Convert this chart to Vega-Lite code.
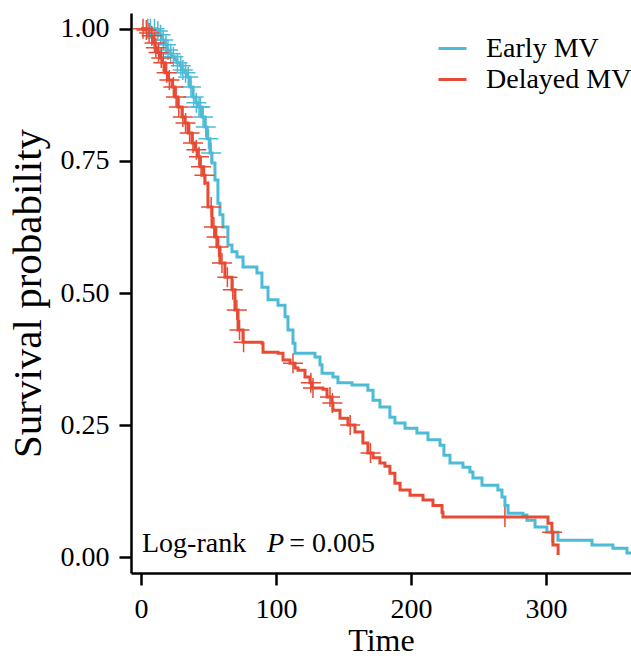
{
  "$schema": "https://vega.github.io/schema/vega-lite/v6.json",
  "width": 500,
  "height": 560,
  "autosize": {"type": "none"},
  "padding": {"left": 131, "top": 13, "right": 0, "bottom": 83},
  "background": "white",
  "config": {
    "view": {"stroke": null},
    "font": "Liberation Serif",
    "axis": {
      "domainColor": "black", "domainWidth": 2.5,
      "tickColor": "black", "tickWidth": 2.5, "tickSize": 12,
      "labelFont": "Liberation Serif", "labelFontSize": 28, "labelColor": "black",
      "titleFont": "Liberation Serif", "titleFontWeight": "normal", "titleColor": "black",
      "grid": false
    }
  },
  "datasets": {
    "curve": [
      {"group": "Early MV", "time": 0, "surv": 1.0},
      {"group": "Early MV", "time": 8.9, "surv": 1.0},
      {"group": "Early MV", "time": 11.9, "surv": 0.996},
      {"group": "Early MV", "time": 14.1, "surv": 0.989},
      {"group": "Early MV", "time": 15.6, "surv": 0.979},
      {"group": "Early MV", "time": 17.8, "surv": 0.970},
      {"group": "Early MV", "time": 19.3, "surv": 0.960},
      {"group": "Early MV", "time": 21.5, "surv": 0.953},
      {"group": "Early MV", "time": 23.0, "surv": 0.947},
      {"group": "Early MV", "time": 25.2, "surv": 0.941},
      {"group": "Early MV", "time": 26.7, "surv": 0.936},
      {"group": "Early MV", "time": 28.9, "surv": 0.930},
      {"group": "Early MV", "time": 30.4, "surv": 0.922},
      {"group": "Early MV", "time": 32.6, "surv": 0.917},
      {"group": "Early MV", "time": 34.1, "surv": 0.909},
      {"group": "Early MV", "time": 36.3, "surv": 0.890},
      {"group": "Early MV", "time": 38.5, "surv": 0.871},
      {"group": "Early MV", "time": 40.7, "surv": 0.860},
      {"group": "Early MV", "time": 42.2, "surv": 0.852},
      {"group": "Early MV", "time": 45.2, "surv": 0.833},
      {"group": "Early MV", "time": 47.4, "surv": 0.814},
      {"group": "Early MV", "time": 48.9, "surv": 0.792},
      {"group": "Early MV", "time": 51.1, "surv": 0.765},
      {"group": "Early MV", "time": 52.6, "surv": 0.746},
      {"group": "Early MV", "time": 54.8, "surv": 0.714},
      {"group": "Early MV", "time": 57.0, "surv": 0.670},
      {"group": "Early MV", "time": 58.5, "surv": 0.648},
      {"group": "Early MV", "time": 60.7, "surv": 0.625},
      {"group": "Early MV", "time": 64.4, "surv": 0.591},
      {"group": "Early MV", "time": 67.4, "surv": 0.578},
      {"group": "Early MV", "time": 71.1, "surv": 0.568},
      {"group": "Early MV", "time": 75.6, "surv": 0.549},
      {"group": "Early MV", "time": 85.9, "surv": 0.538},
      {"group": "Early MV", "time": 89.6, "surv": 0.511},
      {"group": "Early MV", "time": 94.1, "surv": 0.487},
      {"group": "Early MV", "time": 101.5, "surv": 0.477},
      {"group": "Early MV", "time": 106.7, "surv": 0.455},
      {"group": "Early MV", "time": 108.9, "surv": 0.430},
      {"group": "Early MV", "time": 112.6, "surv": 0.405},
      {"group": "Early MV", "time": 114.1, "surv": 0.386},
      {"group": "Early MV", "time": 128.9, "surv": 0.379},
      {"group": "Early MV", "time": 132.6, "surv": 0.364},
      {"group": "Early MV", "time": 134.1, "surv": 0.348},
      {"group": "Early MV", "time": 142.2, "surv": 0.341},
      {"group": "Early MV", "time": 145.9, "surv": 0.330},
      {"group": "Early MV", "time": 156.3, "surv": 0.326},
      {"group": "Early MV", "time": 168.1, "surv": 0.316},
      {"group": "Early MV", "time": 171.9, "surv": 0.297},
      {"group": "Early MV", "time": 177.0, "surv": 0.284},
      {"group": "Early MV", "time": 184.4, "surv": 0.265},
      {"group": "Early MV", "time": 188.1, "surv": 0.254},
      {"group": "Early MV", "time": 195.6, "surv": 0.244},
      {"group": "Early MV", "time": 204.4, "surv": 0.235},
      {"group": "Early MV", "time": 212.6, "surv": 0.222},
      {"group": "Early MV", "time": 221.5, "surv": 0.212},
      {"group": "Early MV", "time": 224.4, "surv": 0.193},
      {"group": "Early MV", "time": 228.9, "surv": 0.178},
      {"group": "Early MV", "time": 238.5, "surv": 0.170},
      {"group": "Early MV", "time": 243.7, "surv": 0.161},
      {"group": "Early MV", "time": 245.9, "surv": 0.150},
      {"group": "Early MV", "time": 252.6, "surv": 0.136},
      {"group": "Early MV", "time": 264.4, "surv": 0.127},
      {"group": "Early MV", "time": 267.4, "surv": 0.114},
      {"group": "Early MV", "time": 269.6, "surv": 0.098},
      {"group": "Early MV", "time": 271.9, "surv": 0.083},
      {"group": "Early MV", "time": 283.0, "surv": 0.080},
      {"group": "Early MV", "time": 285.9, "surv": 0.070},
      {"group": "Early MV", "time": 291.9, "surv": 0.057},
      {"group": "Early MV", "time": 300.7, "surv": 0.047},
      {"group": "Early MV", "time": 308.9, "surv": 0.032},
      {"group": "Early MV", "time": 331.1, "surv": 0.032},
      {"group": "Early MV", "time": 334.1, "surv": 0.023},
      {"group": "Early MV", "time": 349.6, "surv": 0.017},
      {"group": "Early MV", "time": 360.0, "surv": 0.008},
      {"group": "Early MV", "time": 363.0, "surv": 0.008},
      {"group": "Delayed MV", "time": 0, "surv": 1.0},
      {"group": "Delayed MV", "time": 3.0, "surv": 0.998},
      {"group": "Delayed MV", "time": 5.2, "surv": 0.992},
      {"group": "Delayed MV", "time": 6.7, "surv": 0.987},
      {"group": "Delayed MV", "time": 8.9, "surv": 0.973},
      {"group": "Delayed MV", "time": 10.4, "surv": 0.964},
      {"group": "Delayed MV", "time": 11.9, "surv": 0.955},
      {"group": "Delayed MV", "time": 14.1, "surv": 0.945},
      {"group": "Delayed MV", "time": 15.6, "surv": 0.936},
      {"group": "Delayed MV", "time": 17.8, "surv": 0.917},
      {"group": "Delayed MV", "time": 20.0, "surv": 0.903},
      {"group": "Delayed MV", "time": 23.0, "surv": 0.890},
      {"group": "Delayed MV", "time": 25.2, "surv": 0.871},
      {"group": "Delayed MV", "time": 27.4, "surv": 0.852},
      {"group": "Delayed MV", "time": 30.4, "surv": 0.833},
      {"group": "Delayed MV", "time": 32.6, "surv": 0.822},
      {"group": "Delayed MV", "time": 34.8, "surv": 0.803},
      {"group": "Delayed MV", "time": 37.8, "surv": 0.784},
      {"group": "Delayed MV", "time": 40.0, "surv": 0.771},
      {"group": "Delayed MV", "time": 42.2, "surv": 0.758},
      {"group": "Delayed MV", "time": 43.7, "surv": 0.739},
      {"group": "Delayed MV", "time": 45.9, "surv": 0.723},
      {"group": "Delayed MV", "time": 47.4, "surv": 0.708},
      {"group": "Delayed MV", "time": 49.6, "surv": 0.663},
      {"group": "Delayed MV", "time": 52.6, "surv": 0.625},
      {"group": "Delayed MV", "time": 54.8, "surv": 0.606},
      {"group": "Delayed MV", "time": 56.3, "surv": 0.587},
      {"group": "Delayed MV", "time": 58.5, "surv": 0.557},
      {"group": "Delayed MV", "time": 62.2, "surv": 0.530},
      {"group": "Delayed MV", "time": 67.4, "surv": 0.506},
      {"group": "Delayed MV", "time": 69.6, "surv": 0.468},
      {"group": "Delayed MV", "time": 71.9, "surv": 0.430},
      {"group": "Delayed MV", "time": 75.6, "surv": 0.407},
      {"group": "Delayed MV", "time": 89.6, "surv": 0.405},
      {"group": "Delayed MV", "time": 90.4, "surv": 0.388},
      {"group": "Delayed MV", "time": 101.5, "surv": 0.386},
      {"group": "Delayed MV", "time": 105.2, "surv": 0.373},
      {"group": "Delayed MV", "time": 110.4, "surv": 0.367},
      {"group": "Delayed MV", "time": 114.1, "surv": 0.358},
      {"group": "Delayed MV", "time": 116.3, "surv": 0.354},
      {"group": "Delayed MV", "time": 121.5, "surv": 0.341},
      {"group": "Delayed MV", "time": 125.2, "surv": 0.330},
      {"group": "Delayed MV", "time": 126.7, "surv": 0.320},
      {"group": "Delayed MV", "time": 134.8, "surv": 0.318},
      {"group": "Delayed MV", "time": 137.8, "surv": 0.303},
      {"group": "Delayed MV", "time": 141.5, "surv": 0.292},
      {"group": "Delayed MV", "time": 142.2, "surv": 0.278},
      {"group": "Delayed MV", "time": 147.4, "surv": 0.263},
      {"group": "Delayed MV", "time": 153.3, "surv": 0.250},
      {"group": "Delayed MV", "time": 158.5, "surv": 0.237},
      {"group": "Delayed MV", "time": 164.4, "surv": 0.216},
      {"group": "Delayed MV", "time": 168.1, "surv": 0.197},
      {"group": "Delayed MV", "time": 171.9, "surv": 0.188},
      {"group": "Delayed MV", "time": 177.0, "surv": 0.178},
      {"group": "Delayed MV", "time": 180.7, "surv": 0.172},
      {"group": "Delayed MV", "time": 184.4, "surv": 0.159},
      {"group": "Delayed MV", "time": 188.1, "surv": 0.140},
      {"group": "Delayed MV", "time": 191.9, "surv": 0.127},
      {"group": "Delayed MV", "time": 199.3, "surv": 0.117},
      {"group": "Delayed MV", "time": 208.9, "surv": 0.108},
      {"group": "Delayed MV", "time": 216.3, "surv": 0.098},
      {"group": "Delayed MV", "time": 223.0, "surv": 0.085},
      {"group": "Delayed MV", "time": 223.7, "surv": 0.076},
      {"group": "Delayed MV", "time": 300.7, "surv": 0.076},
      {"group": "Delayed MV", "time": 301.5, "surv": 0.064},
      {"group": "Delayed MV", "time": 304.4, "surv": 0.047},
      {"group": "Delayed MV", "time": 305.2, "surv": 0.023},
      {"group": "Delayed MV", "time": 309.0, "surv": 0.004}
    ],
    "censor": [
      {"group": "Early MV", "time": 5, "surv": 1.0},
      {"group": "Early MV", "time": 7, "surv": 1.0},
      {"group": "Early MV", "time": 10, "surv": 1.0},
      {"group": "Early MV", "time": 12.5, "surv": 0.996},
      {"group": "Early MV", "time": 14.5, "surv": 0.989},
      {"group": "Early MV", "time": 16.5, "surv": 0.979},
      {"group": "Early MV", "time": 18.5, "surv": 0.970},
      {"group": "Early MV", "time": 20, "surv": 0.960},
      {"group": "Early MV", "time": 22, "surv": 0.953},
      {"group": "Early MV", "time": 24, "surv": 0.947},
      {"group": "Early MV", "time": 27, "surv": 0.936},
      {"group": "Early MV", "time": 29.5, "surv": 0.930},
      {"group": "Early MV", "time": 31, "surv": 0.922},
      {"group": "Early MV", "time": 33, "surv": 0.917},
      {"group": "Early MV", "time": 35, "surv": 0.909},
      {"group": "Early MV", "time": 37, "surv": 0.890},
      {"group": "Early MV", "time": 39, "surv": 0.871},
      {"group": "Early MV", "time": 41, "surv": 0.860},
      {"group": "Early MV", "time": 43, "surv": 0.852},
      {"group": "Early MV", "time": 44, "surv": 0.852},
      {"group": "Early MV", "time": 46, "surv": 0.833},
      {"group": "Early MV", "time": 48, "surv": 0.814},
      {"group": "Early MV", "time": 50, "surv": 0.792},
      {"group": "Early MV", "time": 52, "surv": 0.765},
      {"group": "Delayed MV", "time": 1.5, "surv": 1.0},
      {"group": "Delayed MV", "time": 4, "surv": 0.998},
      {"group": "Delayed MV", "time": 6, "surv": 0.992},
      {"group": "Delayed MV", "time": 8, "surv": 0.987},
      {"group": "Delayed MV", "time": 10, "surv": 0.973},
      {"group": "Delayed MV", "time": 11, "surv": 0.964},
      {"group": "Delayed MV", "time": 13, "surv": 0.955},
      {"group": "Delayed MV", "time": 15, "surv": 0.945},
      {"group": "Delayed MV", "time": 16.5, "surv": 0.936},
      {"group": "Delayed MV", "time": 19, "surv": 0.917},
      {"group": "Delayed MV", "time": 21, "surv": 0.903},
      {"group": "Delayed MV", "time": 24, "surv": 0.890},
      {"group": "Delayed MV", "time": 26, "surv": 0.871},
      {"group": "Delayed MV", "time": 28, "surv": 0.852},
      {"group": "Delayed MV", "time": 31, "surv": 0.833},
      {"group": "Delayed MV", "time": 33, "surv": 0.822},
      {"group": "Delayed MV", "time": 36, "surv": 0.803},
      {"group": "Delayed MV", "time": 38.5, "surv": 0.784},
      {"group": "Delayed MV", "time": 41, "surv": 0.771},
      {"group": "Delayed MV", "time": 43, "surv": 0.758},
      {"group": "Delayed MV", "time": 44.5, "surv": 0.739},
      {"group": "Delayed MV", "time": 47, "surv": 0.723},
      {"group": "Delayed MV", "time": 52, "surv": 0.663},
      {"group": "Delayed MV", "time": 54, "surv": 0.625},
      {"group": "Delayed MV", "time": 56, "surv": 0.606},
      {"group": "Delayed MV", "time": 57.5, "surv": 0.587},
      {"group": "Delayed MV", "time": 60, "surv": 0.557},
      {"group": "Delayed MV", "time": 64, "surv": 0.530},
      {"group": "Delayed MV", "time": 68, "surv": 0.506},
      {"group": "Delayed MV", "time": 71, "surv": 0.468},
      {"group": "Delayed MV", "time": 73, "surv": 0.430},
      {"group": "Delayed MV", "time": 76, "surv": 0.407},
      {"group": "Delayed MV", "time": 112.6, "surv": 0.367},
      {"group": "Delayed MV", "time": 125.8, "surv": 0.330},
      {"group": "Delayed MV", "time": 127.4, "surv": 0.320},
      {"group": "Delayed MV", "time": 140, "surv": 0.303},
      {"group": "Delayed MV", "time": 141.8, "surv": 0.292},
      {"group": "Delayed MV", "time": 155, "surv": 0.250},
      {"group": "Delayed MV", "time": 170, "surv": 0.197},
      {"group": "Delayed MV", "time": 269.6, "surv": 0.076},
      {"group": "Delayed MV", "time": 304.6, "surv": 0.047}
    ],
    "note": [{"id": 1}]
  },
  "layer": [
    {
      "data": {"name": "curve"},
      "mark": {"type": "line", "interpolate": "step-after", "strokeWidth": 3, "clip": true},
      "encoding": {
        "x": {"field": "time", "type": "quantitative",
              "scale": {"domain": [-7.4, 363], "nice": false, "zero": false},
              "axis": {"values": [0, 100, 200, 300], "title": "Time", "titleFontSize": 32, "labelPadding": 10, "titlePadding": 2}},
        "y": {"field": "surv", "type": "quantitative",
              "scale": {"domain": [-0.03, 1.03], "nice": false, "zero": false},
              "axis": {"values": [0, 0.25, 0.5, 0.75, 1], "format": ".2f", "title": "Survival probability", "titleFontSize": 41, "labelPadding": 10, "titlePadding": 11}},
        "color": {"field": "group", "type": "nominal",
                  "scale": {"domain": ["Early MV", "Delayed MV"], "range": ["#4DBBD5", "#E64B35"]},
                  "legend": {"orient": "none", "legendX": 306, "legendY": 20, "title": null,
                             "symbolType": "stroke", "symbolSize": 784, "symbolStrokeWidth": 3,
                             "labelFont": "Liberation Serif", "labelFontSize": 28, "labelColor": "black",
                             "labelOffset": 18, "rowPadding": 1, "padding": 0}}
      }
    },
    {
      "data": {"name": "censor"},
      "mark": {"type": "point", "shape": "M-1,0L1,0M0,-1L0,1", "filled": false, "size": 400, "strokeWidth": 1.5, "opacity": 1, "clip": true},
      "encoding": {
        "x": {"field": "time", "type": "quantitative"},
        "y": {"field": "surv", "type": "quantitative"},
        "color": {"field": "group", "type": "nominal", "legend": null}
      }
    },
    {
      "data": {"name": "note"},
      "mark": {"type": "text", "align": "left", "baseline": "alphabetic", "fontSize": 28, "font": "Liberation Serif", "color": "black"},
      "encoding": {"x": {"datum": 0.74}, "y": {"datum": 0.0095}, "text": {"value": "Log-rank"}}
    },
    {
      "data": {"name": "note"},
      "mark": {"type": "text", "align": "left", "baseline": "alphabetic", "fontSize": 28, "font": "Liberation Serif", "fontStyle": "italic", "color": "black"},
      "encoding": {"x": {"datum": 93.3}, "y": {"datum": 0.0095}, "text": {"value": "P"}}
    },
    {
      "data": {"name": "note"},
      "mark": {"type": "text", "align": "left", "baseline": "alphabetic", "fontSize": 28, "font": "Liberation Serif", "color": "black"},
      "encoding": {"x": {"datum": 109.8}, "y": {"datum": 0.0095}, "text": {"value": "= 0.005"}}
    }
  ]
}
